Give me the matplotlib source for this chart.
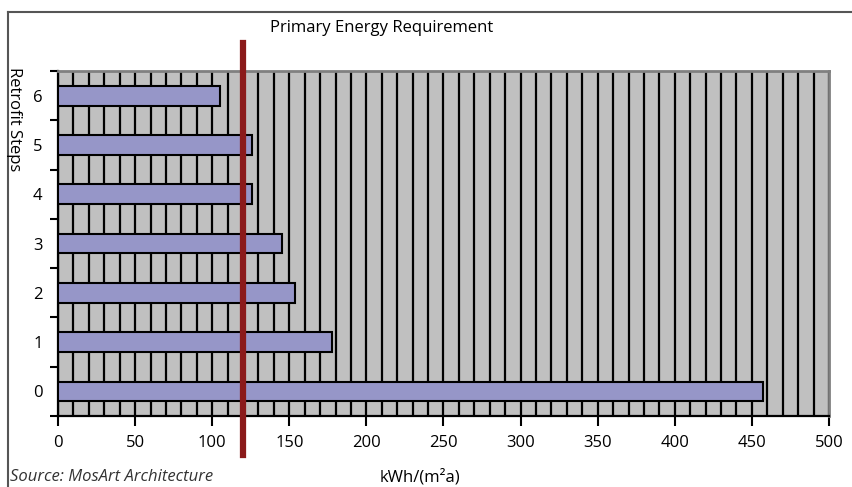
import matplotlib.pyplot as plt
import matplotlib.transforms as mtransforms
from matplotlib.lines import Line2D
from matplotlib.ticker import MultipleLocator, FixedLocator, NullFormatter
import numpy as np

steps = ['0', '1', '2', '3', '4', '5', '6']
energy = [457, 178, 154, 145, 126, 126, 105]
target = 120

plt.rcParams['font.family'] = ['Open Sans', 'DejaVu Sans']
fs = 12

fig = plt.figure(figsize=(8.53, 4.87), dpi=100)
ax = fig.add_axes([58/853, 1 - 416/487, (829 - 58)/853, (416 - 71)/487])
ax.set_facecolor('#c0c0c0')

y = np.arange(len(steps))
ax.barh(y, energy, height=0.4, color='#9696c8', edgecolor='black', linewidth=1.5, zorder=3)

ax.set_xlim(0, 500)
ax.set_ylim(-0.5, len(steps) - 0.5)

# vertical grid every 10
ax.xaxis.set_minor_locator(MultipleLocator(10))
ax.xaxis.set_major_locator(MultipleLocator(50))
ax.grid(True, which='both', axis='x', color='black', linewidth=1.6, zorder=1)
ax.set_axisbelow(True)

ax.tick_params(axis='x', which='major', length=7, width=1.5, direction='out',
               labelsize=fs, pad=7)
ax.tick_params(axis='x', which='minor', length=0)

# y: labels at the bars, tick marks at the category boundaries
ax.set_yticks(y)
ax.set_yticklabels(steps)
ax.tick_params(axis='y', which='major', length=0, labelsize=fs, pad=11)
ax.yaxis.set_minor_locator(FixedLocator(np.arange(-0.5, len(steps), 1.0)))
ax.yaxis.set_minor_formatter(NullFormatter())
ax.tick_params(axis='y', which='minor', length=6, width=1.5, direction='out')

for s in ['left', 'bottom']:
    ax.spines[s].set_color('black')
    ax.spines[s].set_linewidth(1.6)
for s in ['top', 'right']:
    ax.spines[s].set_color('#808080')
    ax.spines[s].set_linewidth(2)

# requirement line, running past the plot area
trans = mtransforms.blended_transform_factory(ax.transData, ax.transAxes)
ax.plot([target, target], [-0.113, 1.081], color='#8b1a1a', linewidth=4.5,
        transform=trans, clip_on=False, zorder=5)

fig.text(382/853, 1 - 28/487, 'Primary Energy Requirement', ha='center', va='center', fontsize=fs)
fig.text(14/853, 1 - 119/487, 'Retrofit Steps', rotation=270, ha='center', va='center', fontsize=fs)
fig.text(420/853, 1 - 477/487, 'kWh/(m²a)', ha='center', va='center', fontsize=fs)
fig.text(10/853, 1 - 477/487, 'Source: MosArt Architecture', ha='left', va='center',
         fontsize=fs, style='italic', color='#333333')

# chart frame (top and left edges visible)
fig.add_artist(Line2D([8/853, 1.0], [1 - 11.5/487, 1 - 11.5/487], transform=fig.transFigure,
                      color='#555555', linewidth=1.5))
fig.add_artist(Line2D([8/853, 8/853], [0.0, 1 - 11.5/487], transform=fig.transFigure,
                      color='#555555', linewidth=1.5))

fig.savefig('out.png', dpi=100)
